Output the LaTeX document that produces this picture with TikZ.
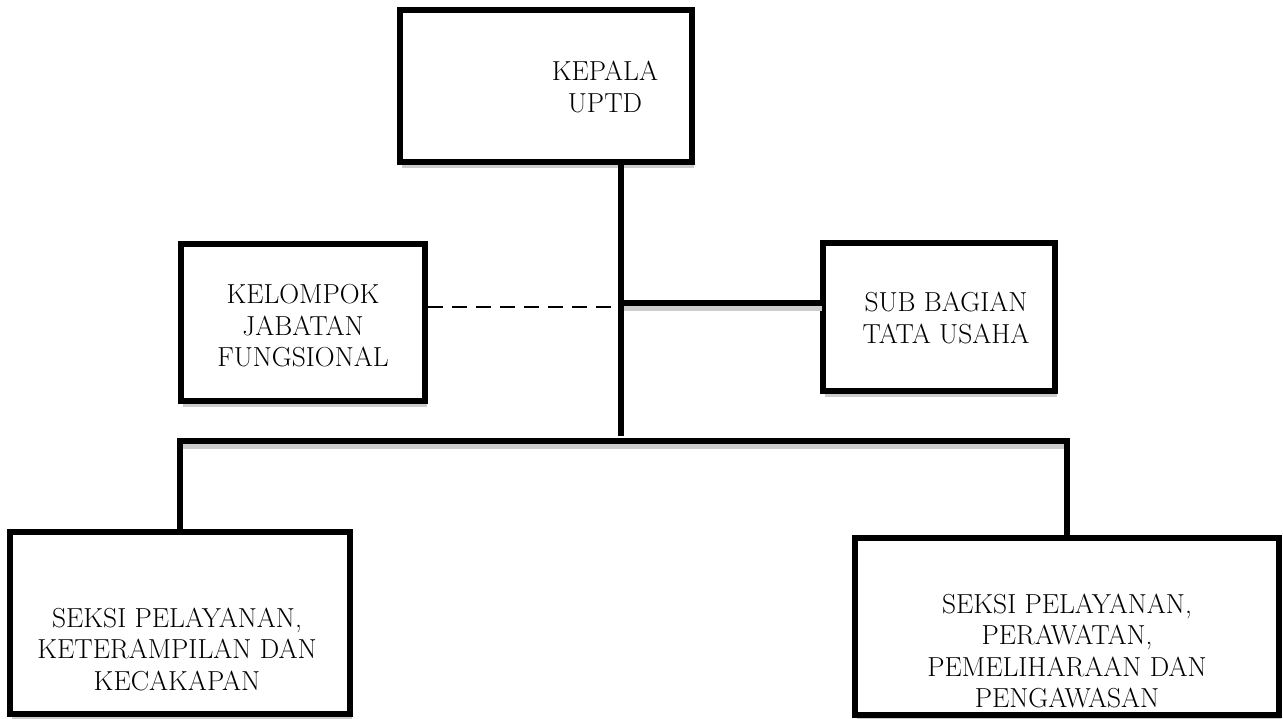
\documentclass[tikz,border=0pt]{standalone}
\usetikzlibrary{shadows}
\begin{document}
\begin{tikzpicture}[x=1pt,y=-1pt,
  box/.style={draw=black, line width=6pt, fill=white, inner sep=0pt,
    drop shadow={shadow xshift=2pt, shadow yshift=-6pt, fill=black!20, opacity=1}},
  label/.style={inner sep=0pt, align=center, font=\fontsize{27.5}{31.5}\selectfont},
  link/.style={line width=6pt, line cap=rect},
  linkshadow/.style={line width=6pt, draw=black!20, transform canvas={shift={(1.5pt,-5pt)}}},
  dotlink/.style={line width=1.6pt, dash pattern=on 15pt off 9pt}]
\useasboundingbox (0,0) rectangle (1283,718);
% boxes
\node[box, minimum width=292pt, minimum height=152pt] (kepala) at (546,86) {};
\node[box, minimum width=244pt, minimum height=157pt] (kjf) at (303,322.5) {};
\node[box, minimum width=232pt, minimum height=148pt] (sbt) at (939,317) {};
\node[box, minimum width=340pt, minimum height=182pt] (spk) at (180,623) {};
\node[box, minimum width=424pt, minimum height=177pt] (sppp) at (1067,626) {};
% texts
\node[label] (tkepala) at (605,87) {KEPALA\\UPTD};
\node[label] (tkjf) at (303,326) {KELOMPOK\\JABATAN\\FUNGSIONAL};
\node[label] (tsbt) at (946,318) {SUB BAGIAN\\TATA USAHA};
\node[label] (tspk) at (177,649) {SEKSI PELAYANAN,\\KETERAMPILAN DAN\\KECAKAPAN};
\node[label] (tsppp) at (1067,651) {SEKSI PELAYANAN,\\PERAWATAN,\\PEMELIHARAAN DAN\\PENGAWASAN};
% junction coordinates
\coordinate (top) at (621,162);
\coordinate (trunk) at (621,436);
\coordinate (jsbt) at (621,303);
\coordinate (jkjf) at (621,307);
\coordinate (bar) at (621,441);
% shadows of connectors
\draw[linkshadow] (jsbt) -- (jsbt -| sbt.west);
\draw[linkshadow] (spk.north |- bar) -- (sppp.north |- bar);
% connectors
\draw[link, line cap=butt] (top) -- (trunk);
\draw[link] (jsbt) -- (jsbt -| sbt.west);
\draw[dotlink] (kjf.east |- jkjf) -- (jkjf);
\draw[link] (spk.north) -- (spk.north |- bar) -- (sppp.north |- bar) -- (sppp.north);
\end{tikzpicture}
\end{document}
